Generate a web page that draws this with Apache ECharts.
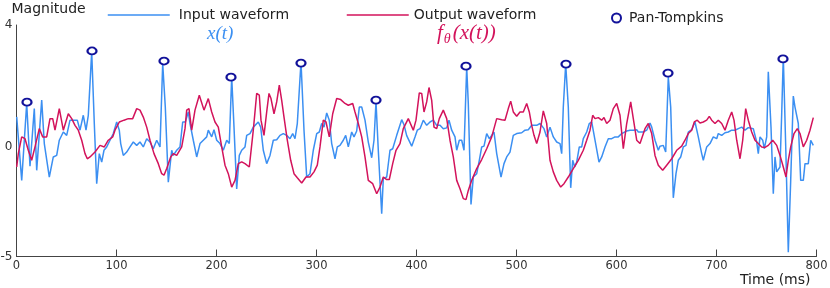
<!DOCTYPE html>
<html><head><meta charset="utf-8">
<script src="https://cdn.jsdelivr.net/npm/echarts@6/dist/echarts.min.js"></script>
<style>html,body{margin:0;padding:0;background:#fff}#c{width:830px;height:288px}</style>
</head><body><div id="c"></div>
<script>
// x ticks
const xTicks = [0,100,200,300,400,500,600,700,800];
// y labels: [value, text]
const yLabelValues = [-5, -0.75, 4];
const yLabelTexts = ['-5', '0', '4'];

// Input waveform x(t): [time ms, magnitude]
const inputWave = [[0.2,0.43],[5.2,-2.04],[10.2,0.95],[13.5,-1.49],[17.8,0.75],[20.2,-1.65],[25.2,1.08],[27.8,-0.61],[32.8,-1.91],[36.8,-1.13],[40.2,-1.07],[42.8,-0.48],[46.8,-0.16],[50.2,-0.29],[53.5,0.30],[58.5,0.30],[60.8,0.30],[63.5,-0.09],[66.8,0.49],[69.5,-0.09],[71.8,0.49],[75.2,2.96],[77.8,0.17],[80.2,-2.17],[82.8,-1.00],[85.2,-1.33],[87.5,-0.87],[90.2,-0.74],[93.5,-0.48],[96.8,-0.22],[100.2,0.23],[102.8,-0.09],[104.2,-0.61],[106.8,-1.07],[110.2,-0.94],[113.5,-0.74],[116.8,-0.55],[120.2,-0.68],[123.5,-0.55],[126.8,-0.74],[130.2,-0.42],[133.5,-0.55],[136.8,-0.81],[140.2,-0.48],[143.5,-0.74],[146.2,2.50],[148.8,0.81],[151.8,-2.11],[155.2,-0.87],[156.8,-1.07],[160.2,-0.87],[163.5,-0.74],[166.2,0.23],[168.8,0.23],[171.8,0.62],[173.5,0.17],[176.8,-0.48],[180.2,-1.13],[183.5,-0.61],[186.8,-0.48],[190.2,-0.35],[191.8,-0.09],[195.2,-0.35],[197.5,-0.07],[200.2,-0.48],[203.5,-0.61],[206.8,-0.87],[210.2,-0.48],[212.8,-0.61],[215.2,1.98],[217.5,0.03],[220.2,-2.37],[222.8,-1.07],[225.2,-0.87],[228.5,-0.74],[230.2,-0.29],[233.5,-0.22],[236.8,0.03],[238.5,-0.03],[241.8,0.23],[244.2,0.03],[246.8,-0.87],[250.2,-1.39],[253.5,-1.07],[256.8,-0.48],[260.2,-0.46],[263.5,-0.29],[266.8,-0.22],[270.2,-0.29],[273.5,-0.42],[276.2,-0.22],[278.5,-0.42],[280.8,0.17],[284.5,2.57],[287.5,-0.09],[290.2,-1.91],[293.5,-1.78],[296.8,-0.87],[300.2,-0.22],[302.8,-0.16],[305.2,0.17],[307.5,0.03],[310.2,0.58],[312.8,0.30],[315.2,-0.61],[318.5,-1.20],[320.8,-0.74],[323.5,-0.68],[326.8,-0.48],[329.2,-0.29],[331.8,-0.74],[335.2,-0.16],[337.5,-0.35],[340.2,-0.12],[342.8,0.81],[345.2,0.81],[348.5,0.30],[351.8,-0.55],[355.2,-1.16],[357.5,-0.48],[359.5,1.01],[361.8,-0.87],[365.2,-3.34],[366.8,-1.97],[370.2,-1.91],[373.5,-0.87],[376.2,-0.81],[380.2,-0.29],[385.2,0.32],[387.5,0.12],[390.2,-0.30],[395.2,-0.71],[398.5,-0.35],[400.8,-0.09],[403.5,-0.03],[406.8,0.30],[410.2,0.10],[413.5,0.23],[416.8,0.30],[420.2,0.10],[423.5,0.10],[426.8,-0.03],[430.2,0.00],[432.5,0.30],[435.2,-0.09],[438.5,-0.35],[440.2,-0.87],[442.8,-0.48],[445.2,-0.48],[447.5,-0.87],[450.2,2.37],[451.8,0.95],[454.5,-2.98],[456.8,-1.91],[460.2,-1.78],[462.8,-1.26],[465.2,-0.74],[467.5,-0.71],[470.2,-0.22],[472.8,-0.42],[475.2,-0.29],[477.5,-0.16],[480.2,-1.00],[484.5,-1.91],[487.5,-1.39],[490.2,-1.13],[493.5,-0.94],[496.8,-0.29],[500.2,-0.22],[505.2,-0.19],[508.5,-0.09],[511.8,-0.07],[515.2,0.10],[516.8,0.17],[520.2,0.10],[523.5,0.17],[527.5,-0.03],[530.2,-0.35],[533.5,0.03],[536.8,-0.35],[540.2,-0.55],[543.5,-0.61],[545.2,-1.00],[546.8,0.81],[549.2,2.48],[551.8,0.81],[554.2,-2.33],[556.2,-1.26],[558.2,-1.52],[560.2,-1.33],[562.8,-0.74],[565.2,-0.74],[566.8,-0.42],[570.2,-0.16],[572.8,0.17],[575.2,0.23],[578.5,-0.48],[582.5,-1.33],[585.2,-1.13],[588.5,-0.74],[591.8,-0.42],[595.2,-0.42],[598.5,-0.35],[601.8,-0.35],[605.2,-0.22],[606.8,-0.16],[610.2,-0.12],[613.5,-0.09],[616.8,-0.09],[620.2,-0.07],[621.8,-0.16],[623.5,-0.09],[626.8,-0.16],[630.2,-0.09],[633.5,0.19],[635.2,0.03],[638.5,-0.48],[641.8,-0.87],[643.5,-0.71],[646.8,-0.68],[649.2,-0.94],[651.8,1.98],[654.2,0.81],[656.8,-2.72],[659.5,-1.78],[661.8,-1.26],[664.2,-1.13],[666.8,-0.74],[669.5,-0.68],[671.8,-0.16],[675.2,-0.07],[678.5,0.23],[680.2,0.30],[681.8,-0.35],[685.2,-1.00],[686.8,-1.26],[690.2,-0.74],[693.5,-0.61],[696.8,-0.35],[700.2,-0.42],[701.8,-0.22],[705.2,-0.29],[708.5,-0.19],[711.8,-0.16],[715.2,-0.09],[718.5,-0.09],[721.8,-0.03],[725.2,0.03],[728.5,-0.09],[731.8,0.01],[736.8,-0.03],[740.2,-0.55],[741.8,-1.00],[743.5,-0.35],[746.2,-0.48],[747.8,-0.81],[750.2,-0.35],[751.8,2.18],[754.5,0.03],[756.8,-2.56],[758.5,-1.13],[760.2,-1.71],[763.5,-1.52],[765.2,0.55],[766.8,2.77],[769.5,-1.13],[771.8,-4.83],[774.2,-2.04],[776.8,1.24],[778.5,0.81],[781.8,0.17],[784.2,-2.04],[786.8,-2.04],[788.5,-1.39],[791.8,-1.39],[794.2,-0.48],[796.8,-0.68]];

// Output waveform f_theta(x(t)): [time ms, magnitude]
const outputWave = [[0.2,-1.52],[1.8,-1.00],[5.2,-0.35],[8.5,-0.42],[11.8,-0.87],[15.2,-1.26],[18.5,-0.74],[22.8,-0.03],[26.2,-0.35],[30.2,-0.35],[33.5,0.36],[36.2,0.36],[38.5,-0.09],[42.8,0.75],[46.8,-0.09],[51.8,0.55],[55.2,0.36],[58.5,0.10],[61.8,-0.09],[65.2,-0.48],[68.5,-1.00],[70.8,-1.20],[73.5,-1.13],[78.5,-0.94],[83.5,-0.68],[87.8,-0.74],[91.8,-0.48],[96.2,-0.35],[98.5,-0.09],[102.8,0.23],[107.5,0.30],[111.8,0.36],[116.2,0.36],[120.2,0.75],[123.5,0.69],[126.8,0.42],[130.2,0.03],[133.5,-0.48],[137.5,-1.00],[141.8,-1.39],[145.2,-1.78],[147.5,-1.84],[150.2,-1.58],[154.2,-1.13],[156.8,-1.00],[160.2,-1.07],[165.2,-0.74],[168.5,-0.03],[170.2,0.69],[172.5,0.75],[175.2,-0.09],[178.5,0.69],[182.8,1.27],[187.5,0.69],[191.8,1.14],[195.2,0.62],[198.5,0.23],[201.8,0.03],[205.2,-0.74],[208.5,-1.45],[211.8,-1.78],[215.2,-2.30],[218.5,-2.04],[221.8,-1.39],[225.2,-1.32],[228.5,-1.39],[232.8,-1.52],[236.8,-0.09],[240.2,1.34],[242.8,1.27],[244.5,0.30],[247.5,-0.29],[250.2,0.62],[252.5,1.34],[254.5,1.14],[257.5,0.55],[260.2,1.01],[262.8,1.66],[265.2,1.07],[267.5,0.42],[270.8,-0.48],[274.2,-1.26],[277.5,-1.78],[280.8,-1.94],[285.2,-2.14],[289.5,-1.91],[293.5,-1.91],[297.5,-1.71],[300.8,-1.45],[303.5,-0.74],[306.8,0.30],[309.5,0.23],[312.8,-0.35],[316.2,0.55],[320.2,1.14],[324.2,1.10],[328.5,0.95],[331.8,0.88],[336.2,0.95],[338.5,0.62],[341.8,0.17],[345.2,-0.35],[348.5,-1.13],[351.8,-2.04],[356.2,-2.17],[360.2,-2.56],[363.5,-2.30],[366.8,-1.91],[370.2,-2.01],[372.8,-2.01],[376.2,-1.39],[379.5,-0.87],[383.5,-0.61],[386.8,-0.03],[391.8,0.36],[396.8,-0.09],[399.5,0.30],[402.8,1.36],[405.2,1.34],[407.5,0.62],[410.2,1.01],[412.5,1.57],[415.2,1.07],[417.5,0.03],[420.2,-0.03],[422.8,0.36],[426.8,0.69],[430.2,0.36],[433.5,-0.48],[436.8,-1.13],[440.2,-2.04],[443.5,-2.37],[446.8,-2.75],[449.5,-2.79],[451.8,-2.43],[455.2,-2.04],[460.2,-1.58],[465.2,-1.23],[470.2,-0.81],[475.2,-0.35],[480.2,0.36],[485.2,0.32],[488.5,0.30],[491.8,0.75],[494.2,1.04],[496.8,0.62],[500.2,0.45],[503.5,0.62],[506.8,0.62],[510.2,0.95],[512.8,0.62],[515.2,0.10],[517.5,-0.29],[520.2,-0.61],[523.5,-0.16],[526.8,0.66],[530.2,0.17],[533.5,-1.26],[536.8,-1.71],[540.2,-2.04],[544.2,-2.30],[547.5,-2.17],[551.8,-1.91],[556.8,-1.58],[561.8,-1.26],[566.8,-0.87],[570.2,-0.48],[573.5,-0.09],[576.2,0.49],[578.5,0.36],[581.8,0.40],[585.2,0.30],[587.5,0.40],[590.2,0.17],[593.5,0.30],[596.8,0.75],[600.2,0.95],[603.5,0.49],[606.8,-0.81],[610.2,0.17],[614.2,1.01],[616.8,0.36],[620.2,-0.48],[623.5,-0.61],[628.5,-0.03],[631.8,0.17],[635.2,-0.22],[638.5,-1.07],[641.8,-1.45],[646.2,-1.65],[650.2,-1.45],[655.2,-1.20],[660.2,-0.87],[665.2,-0.71],[668.5,-0.48],[671.8,-0.22],[675.2,-0.09],[677.8,0.23],[680.8,0.30],[683.5,0.19],[686.8,0.23],[690.2,0.30],[692.8,0.45],[695.2,0.30],[698.5,0.17],[701.8,0.30],[705.2,0.17],[708.5,-0.09],[711.8,0.30],[715.2,0.62],[717.5,0.30],[720.2,-0.48],[723.5,-1.20],[726.2,-0.48],[729.2,0.75],[731.8,0.30],[735.2,-0.16],[738.5,-0.48],[741.8,-0.61],[745.2,-0.74],[748.5,-0.76],[751.8,-0.68],[756.2,-0.48],[760.2,-0.68],[763.5,-1.07],[766.8,-1.52],[769.5,-1.91],[771.8,-1.26],[774.2,-0.74],[777.5,-0.22],[780.8,-0.03],[783.5,-0.22],[786.8,-0.74],[790.2,-0.48],[793.5,-0.09],[796.8,0.40]];

// Pan-Tompkins detected R peaks
const peakTimes = [10.5, 75.5, 147.5, 214.5, 284.5, 359.5, 449.5, 549.5, 651.5, 766.5];
const peakValues = [1.00, 2.99, 2.60, 1.97, 2.52, 1.08, 2.40, 2.48, 2.13, 2.68];

const BLUE = '#3b8ff2', RED = '#d3135b', NAVY = '#12129a';
const FONT = 'DejaVu Sans';
const MATH = 'Liberation Serif';

const chart = echarts.init(document.getElementById('c'), null, {renderer: 'canvas'});
const labelMap = {};
yLabelValues.forEach((v, i) => labelMap[v] = yLabelTexts[i]);

const legendText = {fontFamily: FONT, fontSize: 14, color: '#222'};

chart.setOption({
  animation: false,
  backgroundColor: '#fff',
  grid: {left: 16.5, right: 13.5, top: 25, bottom: 31.5, containLabel: false, outerBoundsMode: 'none'},
  legend: [
    {data: ['Input waveform'], left: 107, top: 8, padding: 0, itemWidth: 62, itemHeight: 14, itemGap: 0,
     itemStyle: {opacity: 0}, lineStyle: {width: 1.5},
     textStyle: Object.assign({padding: [0,0,0,4]}, legendText)},
    {data: ['Output waveform'], left: 346, top: 8, padding: 0, itemWidth: 62, itemHeight: 14, itemGap: 0,
     itemStyle: {opacity: 0}, lineStyle: {width: 1.5},
     textStyle: Object.assign({padding: [0,0,0,0]}, legendText)},
    {data: ['Pan-Tompkins'], left: 611, top: 11, padding: 0, itemWidth: 11, itemHeight: 9, itemGap: 0,
     textStyle: Object.assign({padding: [0,0,0,2]}, legendText)}
  ],
  graphic: [
    {type: 'text', left: 207, top: 24, style: {text: 'x(t)', fill: BLUE, font: 'italic 19px "' + MATH + '"'}},
    {type: 'text', left: 437, top: 23, style: {
      text: '{f|f}{s|θ}{n|(x(t))}', fill: RED,
      rich: {
        f: {fontFamily: MATH, fontStyle: 'italic', fontSize: 21, fill: RED, verticalAlign: 'top', padding: [0,1,0,0]},
        s: {fontFamily: MATH, fontStyle: 'italic', fontSize: 14, fill: RED, verticalAlign: 'top', padding: [9,2,0,0]},
        n: {fontFamily: MATH, fontStyle: 'italic', fontSize: 21, fill: RED, verticalAlign: 'top'}
      }}}
  ],
  xAxis: {
    type: 'value', min: 0, max: 800, interval: 100,
    name: 'Time (ms)', nameLocation: 'end', nameGap: -6,
    nameTextStyle: {fontFamily: FONT, fontSize: 14, color: '#222', align: 'right', verticalAlign: 'top', padding: [17,0,0,0]},
    axisLine: {onZero: false, lineStyle: {color: '#444', width: 1}},
    axisTick: {inside: true, length: 7, lineStyle: {color: '#444'}},
    axisLabel: {fontFamily: FONT, fontSize: 11.5, color: '#333', margin: 4, customValues: xTicks},
    splitLine: {show: false}
  },
  yAxis: {
    type: 'value', min: -5, max: 4,
    name: 'Magnitude', nameLocation: 'end', nameGap: 9,
    nameTextStyle: {fontFamily: FONT, fontSize: 14, color: '#222', align: 'left', padding: [0,0,0,-5]},
    axisLine: {show: true, onZero: false, lineStyle: {color: '#444', width: 1}},
    axisTick: {show: false},
    axisLabel: {fontFamily: FONT, fontSize: 12, color: '#333', margin: 4,
      customValues: yLabelValues, formatter: v => labelMap[v] !== undefined ? labelMap[v] : ''},
    splitLine: {show: false}
  },
  series: [
    {name: 'Input waveform', type: 'line', data: inputWave, symbol: 'none', z: 2,
     lineStyle: {color: BLUE, width: 1.5}, itemStyle: {color: BLUE}},
    {name: 'Output waveform', type: 'line', data: outputWave, symbol: 'none', z: 3,
     lineStyle: {color: RED, width: 1.5}, itemStyle: {color: RED}},
    {name: 'Pan-Tompkins', type: 'scatter', z: 4,
     data: peakTimes.map((t, i) => [t, peakValues[i]]),
     symbol: 'emptyCircle', symbolSize: [9, 7],
     itemStyle: {color: NAVY, borderColor: NAVY, borderWidth: 2, opacity: 1}}
  ]
});
</script></body></html>
